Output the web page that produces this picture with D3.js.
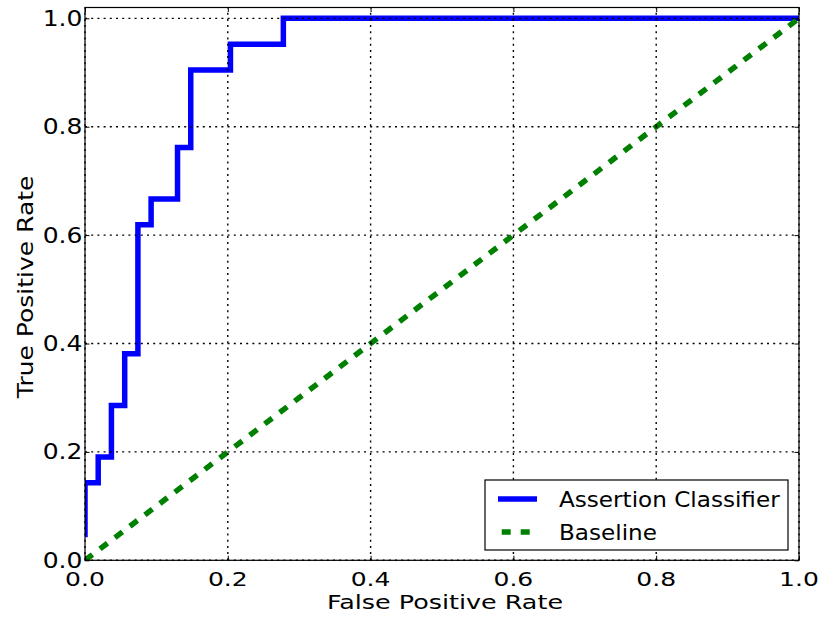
<!DOCTYPE html>
<html>
<head>
<meta charset="utf-8">
<script src="https://cdn.jsdelivr.net/npm/d3@7"></script>
<style>
  html, body { margin: 0; padding: 0; background: #fff; }
  svg { display: block; }
  text { font-family: "DejaVu Sans", sans-serif; fill: #000; }
</style>
</head>
<body>
<svg id="chart" width="824" height="620"></svg>
<script>
// ---- data ----
const fpr = [0.000, 0.000, 0.0185, 0.0185, 0.0370, 0.0370, 0.0556, 0.0556, 0.0741, 0.0741,
             0.0926, 0.0926, 0.1296, 0.1296, 0.1481, 0.1481, 0.2037, 0.2037, 0.2778, 0.2778, 1.000];
const tpr = [0.0476, 0.1429, 0.1429, 0.1905, 0.1905, 0.2857, 0.2857, 0.3810, 0.3810, 0.6190,
             0.6190, 0.6667, 0.6667, 0.7619, 0.7619, 0.9048, 0.9048, 0.9524, 0.9524, 1.000, 1.000];
const baselineX = [0, 1];
const baselineY = [0, 1];
const xTicks = [0.0, 0.2, 0.4, 0.6, 0.8, 1.0];
const yTicks = [0.0, 0.2, 0.4, 0.6, 0.8, 1.0];
const xTickLabels = ["0.0", "0.2", "0.4", "0.6", "0.8", "1.0"];
const yTickLabels = ["0.0", "0.2", "0.4", "0.6", "0.8", "1.0"];
const seriesNames = ["Assertion Classifier", "Baseline"];
const seriesColors = ["#0000ff", "#008000"];
const xLabel = "False Positive Rate";
const yLabel = "True Positive Rate";

// ---- layout ----
const L = 85, R = 799, B = 560.3, T = 7.5;
const svg = d3.select("#chart");
const x = d3.scaleLinear().domain([0, 1]).range([L, R]);
const y = d3.scaleLinear().domain([0, 1.02]).range([B, T]);

function stretch(sel, f) {
  sel.each(function () {
    const len = this.getComputedTextLength();
    d3.select(this).attr("textLength", len * f).attr("lengthAdjust", "spacingAndGlyphs");
  });
}

svg.append("defs").append("clipPath").attr("id", "plotclip")
  .append("rect").attr("x", L).attr("y", T).attr("width", R - L).attr("height", B - T);

const plot = svg.append("g").attr("clip-path", "url(#plotclip)");

const line = d3.line().x(d => x(d[0])).y(d => y(d[1]));

// Classifier ROC
plot.append("path")
  .datum(fpr.map((v, i) => [v, tpr[i]]))
  .attr("d", line)
  .attr("fill", "none")
  .attr("stroke", seriesColors[0])
  .attr("stroke-width", 5.5)
  .attr("stroke-linecap", "square")
  .attr("stroke-linejoin", "miter");

// Baseline
plot.append("path")
  .datum(baselineX.map((v, i) => [v, baselineY[i]]))
  .attr("d", line)
  .attr("fill", "none")
  .attr("stroke", seriesColors[1])
  .attr("stroke-width", 5.5)
  .attr("stroke-dasharray", "9.4,9.4");

// Grid (drawn above lines, like classic matplotlib)
const grid = svg.append("g").attr("stroke", "#000").attr("stroke-width", 1.4)
  .attr("stroke-dasharray", "2,4.2").attr("fill", "none");
grid.selectAll("line.gx").data(xTicks).join("line")
  .attr("x1", d => x(d)).attr("x2", d => x(d)).attr("y1", B).attr("y2", T);
grid.selectAll("line.gy").data(yTicks).join("line")
  .attr("class", "gy")
  .attr("y1", d => y(d)).attr("y2", d => y(d)).attr("x1", L).attr("x2", R);

// Axes via d3 axis (inward ticks)
const tl = 4.5;
const xAxisB = d3.axisBottom(x).tickValues(xTicks).tickSize(-tl).tickFormat("");
const xAxisT = d3.axisTop(x).tickValues(xTicks).tickSize(-tl).tickFormat("");
const yAxisL = d3.axisLeft(y).tickValues(yTicks).tickSize(-tl).tickFormat("");
const yAxisR = d3.axisRight(y).tickValues(yTicks).tickSize(-tl).tickFormat("");
[[xAxisB, `translate(0,${B})`], [xAxisT, `translate(0,${T})`],
 [yAxisL, `translate(${L},0)`], [yAxisR, `translate(${R},0)`]].forEach(([ax, tr]) => {
  const g = svg.append("g").attr("transform", tr).call(ax);
  g.select(".domain").remove();
  g.selectAll(".tick line").attr("stroke", "#000").attr("stroke-width", 1);
});

// Frame
svg.append("rect").attr("x", L).attr("y", T).attr("width", R - L).attr("height", B - T)
  .attr("fill", "none").attr("stroke", "#000").attr("stroke-width", 1.2);

// Tick labels
const xt = svg.append("g").selectAll("text").data(xTicks).join("text")
  .attr("x", d => x(d)).attr("y", 585.5).attr("text-anchor", "middle")
  .attr("font-size", 20).text((d, i) => xTickLabels[i]);
stretch(xt, 1.25);
const yt = svg.append("g").selectAll("text").data(yTicks).join("text")
  .attr("x", 82.5).attr("y", d => y(d) + 7.5).attr("text-anchor", "end")
  .attr("font-size", 20.5).text((d, i) => yTickLabels[i]);
stretch(yt, 1.22);

// Axis labels
const xl = svg.append("text").attr("x", (L + R) / 2 + 3).attr("y", 609)
  .attr("text-anchor", "middle").attr("font-size", 20).text(xLabel);
stretch(xl, 1.27);
const yl = svg.append("text")
  .attr("transform", `translate(33,${(T + B) / 2 + 3}) rotate(-90)`)
  .attr("text-anchor", "middle").attr("font-size", 21).text(yLabel);
stretch(yl, 1.19);

// Legend
const lg = svg.append("g");
lg.append("rect").attr("x", 485).attr("y", 480).attr("width", 303).attr("height", 70)
  .attr("fill", "#fff").attr("stroke", "#000").attr("stroke-width", 1.2);
const rows = [499, 532];
lg.append("line").attr("x1", 498).attr("x2", 537).attr("y1", rows[0]).attr("y2", rows[0])
  .attr("stroke", seriesColors[0]).attr("stroke-width", 5.5);
lg.append("line").attr("x1", 498).attr("x2", 537).attr("y1", rows[1]).attr("y2", rows[1])
  .attr("stroke", seriesColors[1]).attr("stroke-width", 5.5)
  .attr("stroke-dasharray", "9,10").attr("stroke-dashoffset", 15.3);
const lt = lg.selectAll("text.lt").data(seriesNames).join("text")
  .attr("x", 559).attr("y", (d, i) => rows[i] + 7.8)
  .attr("font-size", 21).text(d => d);
stretch(lt, 1.1);
</script>
</body>
</html>
